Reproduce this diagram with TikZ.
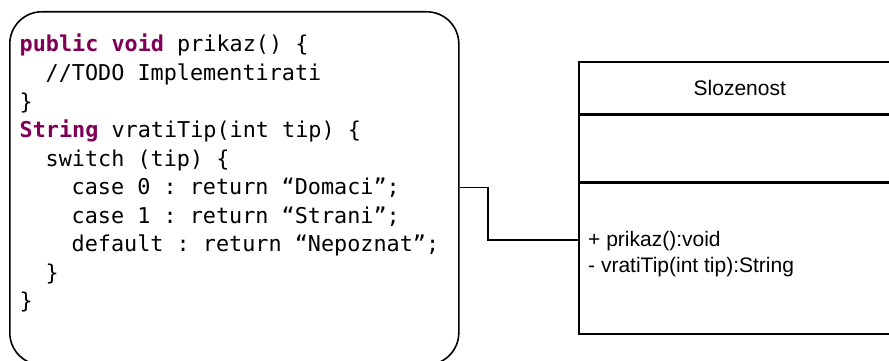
\documentclass[tikz,border=0pt]{standalone}
\usepackage{fontspec}
\setmainfont{Liberation Sans}
\newfontfamily\codefont{DejaVu Sans Mono}
\definecolor{kw}{HTML}{7F0055}
\newcommand{\kwd}[1]{{\bfseries\color{kw}#1}}
\begin{document}
\frenchspacing
\begin{tikzpicture}[x=1pt,y=-1pt,
  codeline/.style={anchor=base west, inner sep=0pt, font=\codefont\fontsize{21.8}{26}\selectfont},
  umltext/.style={inner sep=0pt, font=\fontsize{21}{25}\selectfont},
  box/.style={draw, line width=1.6pt, inner sep=0pt, anchor=north west},
  conn/.style={draw, line width=1.6pt}]
\useasboundingbox (0,0) rectangle (889,361);
\clip (0,0) rectangle (889,361);
% note with code
\node[box, rounded corners=32pt, minimum width=449pt, minimum height=353pt] (note) at (9,11) {};
\node[codeline] (l1) at (19.5,52) {\kwd{public void} prikaz() \{};
\node[codeline] (l2) at (45.5,80.5) {//TODO Implementirati};
\node[codeline] (l3) at (19.5,109) {\}};
\node[codeline] (l4) at (19.5,137.5) {\kwd{String} vratiTip(int tip) \{};
\node[codeline] (l5) at (45.5,166) {switch (tip) \{};
\node[codeline] (l6) at (71.5,194.5) {case 0 : return “Domaci”;};
\node[codeline] (l7) at (71.5,223) {case 1 : return “Strani”;};
\node[codeline] (l8) at (71.5,251.5) {default : return “Nepoznat”;};
\node[codeline] (l9) at (45.5,280) {\}};
\node[codeline] (l10) at (19.5,308.5) {\}};
% class box
\node[box, minimum width=322pt, minimum height=51.5pt, font=\fontsize{21}{25}\selectfont] (cname) at (578,61) {Slozenost};
\node[box, minimum width=322pt, minimum height=66.5pt] (cattr) at (cname.south west) {};
\node[box, minimum width=322pt, minimum height=151pt] (cops) at (cattr.south west) {};
\node[umltext, anchor=base west] (m1) at (588,246.7) {+ prikaz():void};
\node[umltext, anchor=base west] (m2) at (588,272.7) {- vratiTip(int tip):String};
% connector
\coordinate (j1) at (488,187.5);
\coordinate (j2) at (488,240);
\draw[conn] (note.east |- j1) -- (j1) -- (j2) -- (j2 -| cops.west);
\end{tikzpicture}
\end{document}
